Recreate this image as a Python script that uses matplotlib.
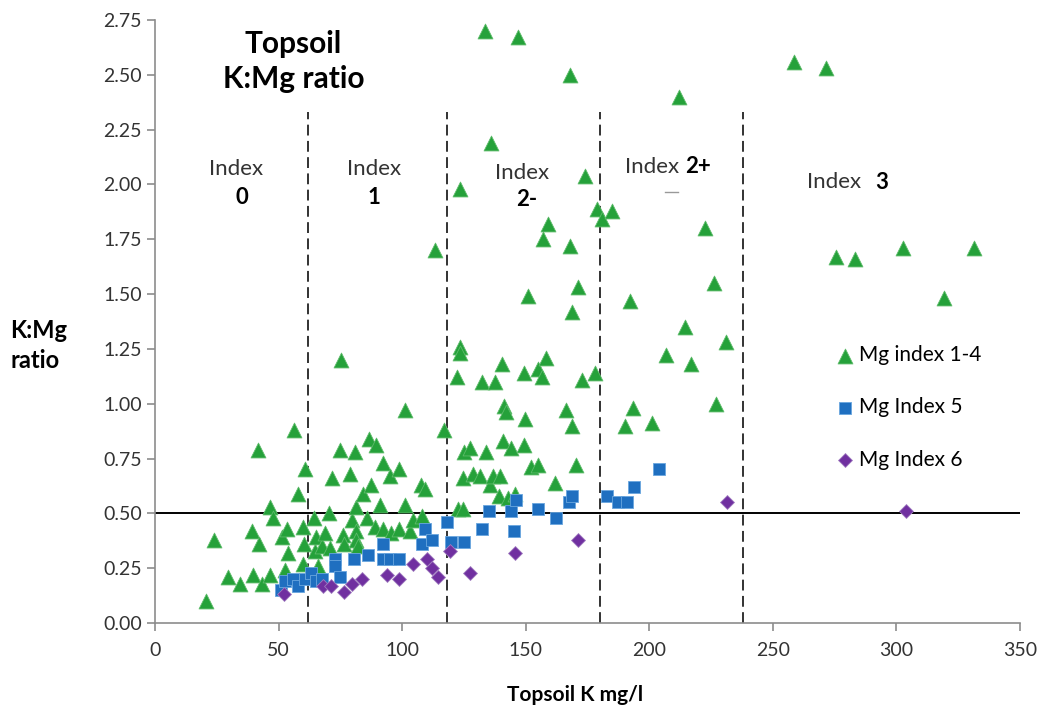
import numpy as np
import matplotlib
matplotlib.use("Agg")
import matplotlib.pyplot as plt
from matplotlib.ticker import MultipleLocator, FormatStrFormatter

plt.rcParams['font.family'] = ['Lato', 'DejaVu Sans']

# Topsoil K (mg/l) and K:Mg ratio
mg14_k = [20.5, 24, 29.6, 34.2, 39.6, 39.3, 41.6, 42.1, 43.1, 46.6, 46.7, 47.8, 51.2, 52.8,
          53.4, 53.9, 56.2, 57.8, 60, 60.4, 60, 60.8,
          64.2, 64.7, 65.3, 66, 67.4, 68.7, 70.5, 70.7, 71.5, 75, 75.2, 76, 76.5, 79,
          80.8, 79.9, 81.5, 81.5, 81.5, 82.2, 84.2, 85.6, 86.6, 87.2, 88.9, 89.3, 91.2,
          92.3, 92.3, 95, 95.3, 98.8, 98.8, 101.3, 101.3, 103.3, 104.2, 107.8, 109.1,
          108.2, 113.2, 117,
          122.6, 124.8, 122, 123.3, 123.3, 123.3, 125, 124.8, 127.3, 128.5, 131.4, 132.3,
          133.4, 134.1, 135.4, 136.1, 136.6, 137.4, 139.4, 139.3, 140.2, 141, 141.3, 141.9,
          142.8, 144, 145.5, 146.9, 149.1, 149.5, 149.8, 150.9, 152, 155, 154.8, 156.5,
          157.1, 158.3, 159, 161.9, 166.1, 168, 168, 168.8, 168.8, 170.2, 171.3, 172.8,
          174.1, 178, 179,
          180.7, 185, 190, 192, 193.6, 201, 206.7, 211.9, 214.5, 216.8, 222.6, 226, 227,
          230.9,
          258.7, 271.5, 275.5, 283.3, 302.5, 319.3, 331.4]
mg14_ratio = [0.10, 0.38, 0.21, 0.18, 0.22, 0.42, 0.79, 0.36, 0.18, 0.22, 0.53, 0.48, 0.39, 0.24,
              0.43, 0.32, 0.88, 0.59, 0.44, 0.36, 0.27, 0.70,
              0.48, 0.33, 0.39, 0.26, 0.35, 0.41, 0.50, 0.34, 0.66, 0.79, 1.20, 0.40, 0.36, 0.68,
              0.78, 0.47, 0.53, 0.42, 0.38, 0.35, 0.59, 0.48, 0.84, 0.63, 0.44, 0.81, 0.54,
              0.73, 0.43, 0.67, 0.41, 0.70, 0.43, 0.97, 0.54, 0.42, 0.47, 0.63, 0.61,
              0.49, 1.70, 0.88,
              0.52, 0.52, 1.12, 1.26, 1.23, 1.98, 0.78, 0.66, 0.80, 0.68, 0.67, 1.10,
              2.70, 0.78, 0.63, 2.19, 0.67, 1.10, 0.67, 0.58, 1.18, 0.83, 0.99, 0.96,
              0.57, 0.80, 0.59, 2.67, 1.14, 0.81, 0.93, 1.49, 0.71, 0.72, 1.16, 1.12,
              1.75, 1.21, 1.82, 0.64, 0.97, 1.72, 2.50, 0.90, 1.42, 0.72, 1.53, 1.11,
              2.04, 1.14, 1.89,
              1.84, 1.88, 0.90, 1.47, 0.98, 0.91, 1.22, 2.40, 1.35, 1.18, 1.80, 1.55, 1.00,
              1.28,
              2.56, 2.53, 1.67, 1.66, 1.71, 1.48, 1.71]

mg5_k = [50.8, 52.5, 55.9, 57.9, 60.6, 63.3, 65.1, 67.6, 73, 73, 74.8, 80.4, 86.2, 92.3,
         92.3, 95, 98.6, 108.2, 109.1, 112.2, 118.2, 119.6, 124.9, 132.3, 135.1, 143.9,
         145.9, 145.2, 154.9, 162.1, 167.7, 168.8, 183, 187.5, 191, 194, 203.9]
mg5_ratio = [0.15, 0.19, 0.20, 0.17, 0.20, 0.23, 0.19, 0.20, 0.29, 0.26, 0.21, 0.29, 0.31, 0.36,
             0.29, 0.29, 0.29, 0.36, 0.43, 0.38, 0.46, 0.37, 0.37, 0.43, 0.51, 0.51,
             0.56, 0.42, 0.52, 0.48, 0.55, 0.58, 0.58, 0.55, 0.55, 0.62, 0.70]

mg6_k = [52.1, 68, 71.4, 76.6, 79.9, 83.9, 93.7, 98.6, 104.2, 110.1, 112.2, 114.5, 119.2,
         127.3, 145.5, 171.1, 231.3, 303.8]
mg6_ratio = [0.13, 0.17, 0.17, 0.14, 0.18, 0.20, 0.22, 0.20, 0.27, 0.29, 0.25, 0.21, 0.33,
             0.23, 0.32, 0.38, 0.55, 0.51]

# K index boundaries and labels
index_bounds = [62, 118, 180, 238]
target_ratio = 0.5

fig = plt.figure(figsize=(10.43, 7.12), dpi=100)
ax = fig.add_axes([0.1486, 0.125, 0.8294, 0.847])

ax.scatter(mg14_k, mg14_ratio, marker='^', s=115, color='#25a13a',
           edgecolors='#5dbb6a', linewidths=0.6, label='Mg index 1-4', zorder=3)
ax.scatter(mg5_k, mg5_ratio, marker='s', s=70, color='#1f6fc0',
           edgecolors='#6aa6de', linewidths=0.6, label='Mg Index 5', zorder=3)
ax.scatter(mg6_k, mg6_ratio, marker='D', s=50, color='#7030a0',
           edgecolors='#a07cc0', linewidths=0.6, label='Mg Index 6', zorder=3)

# 0.5 target ratio and index boundaries
ax.axhline(target_ratio, color='black', lw=1.4, zorder=2)
for b in index_bounds:
    ax.plot([b, b], [0, 2.33], color='#222222', lw=1.3, ls=(0, (6, 3)), zorder=2)

ax.set_xlim(0, 350)
ax.set_ylim(0, 2.75)
ax.xaxis.set_major_locator(MultipleLocator(50))
ax.yaxis.set_major_locator(MultipleLocator(0.25))
ax.yaxis.set_major_formatter(FormatStrFormatter('%.2f'))
for side in ['top', 'right']:
    ax.spines[side].set_visible(False)
for side in ['left', 'bottom']:
    ax.spines[side].set_color('#8c8c8c')
    ax.spines[side].set_linewidth(1.2)
ax.tick_params(direction='out', length=6, color='#8c8c8c', labelsize=14,
               labelcolor='#333333', width=1.2)
ax.tick_params(axis='x', pad=8)

ax.set_xlabel('Topsoil K mg/l', fontsize=15, fontweight='bold')
ax.xaxis.set_label_coords(0.486, -0.102)
fig.text(0.010, 0.515, 'K:Mg\nratio', fontsize=17, fontweight='bold', ha='left',
         va='center', linespacing=1.4)

# chart title
ax.text(56, 2.56, 'Topsoil\nK:Mg ratio', fontsize=21.5, fontweight='bold',
        ha='center', va='center', linespacing=1.3)

# index labels
idx_color = '#333333'
fs = 16
ax.text(33, 2.07, 'Index', fontsize=fs, ha='center', va='center', color=idx_color)
ax.text(35, 1.94, '0', fontsize=fs, ha='center', va='center', fontweight='bold')
ax.text(88.5, 2.07, 'Index', fontsize=fs, ha='center', va='center', color=idx_color)
ax.text(88.5, 1.94, '1', fontsize=fs, ha='center', va='center', fontweight='bold')
ax.text(148.7, 2.05, 'Index', fontsize=fs, ha='center', va='center', color=idx_color)
ax.text(150.4, 1.93, '2-', fontsize=fs, ha='center', va='center', fontweight='bold')
ax.text(190, 2.08, 'Index', fontsize=fs, ha='left', va='center', color=idx_color)
ax.text(214.5, 2.08, '2+', fontsize=fs, ha='left', va='center', fontweight='bold')
ax.plot([206.5, 211.5], [1.965, 1.965], color='#999999', lw=1)
ax.text(264, 2.01, 'Index', fontsize=fs, ha='left', va='center', color=idx_color)
ax.text(291.5, 2.01, '3', fontsize=fs, ha='left', va='center', fontweight='bold')

ax.legend(loc='upper left', bbox_to_anchor=(0.766, 0.485), frameon=False,
          fontsize=15, labelspacing=1.55, handletextpad=0.1, handlelength=1.2,
          borderpad=0.2)

fig.savefig('out.png', dpi=100)
